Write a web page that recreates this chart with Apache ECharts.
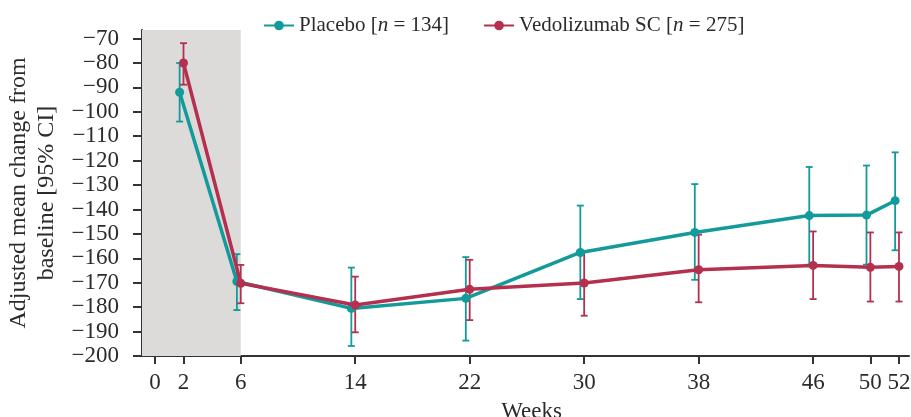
<!DOCTYPE html>
<html>
<head>
<meta charset="utf-8">
<script src="https://cdn.jsdelivr.net/npm/echarts@6/dist/echarts.min.js"></script>
<style>
html,body{margin:0;padding:0;background:#fff;}
#main{width:911px;height:417px;}
</style>
</head>
<body>
<div id="main"></div>
<script>
// Data
const weeks = [2, 6, 14, 22, 30, 38, 46, 50, 52];
const xTicks = [0, 2, 6, 14, 22, 30, 38, 46, 50, 52];
const yTicks = [-200, -190, -180, -170, -160, -150, -140, -130, -120, -110, -100, -90, -80, -70];
const placeboMean = [-92, -169.5, -180.5, -176.4, -157.6, -149.4, -142.5, -142.3, -136.4];
const placeboLow  = [-104, -181.2, -195.9, -193.7, -176.7, -168.8, -162.6, -162.6, -156.7];
const placeboHigh = [-80, -158.3, -163.8, -159.5, -138.4, -129.6, -122.6, -122, -116.6];
const vedoMean = [-80, -170.2, -179.1, -172.7, -170.1, -164.7, -162.9, -163.7, -163.3];
const vedoLow  = [-88.9, -178.4, -190.3, -185.3, -183.5, -178, -176.7, -177.7, -177.7];
const vedoHigh = [-71.9, -162.7, -167.5, -160.6, -157.2, -150.3, -149, -149.4, -149.4];
const placeboName = 'Placebo [{i|n} = 134]';
const vedoName = 'Vedolizumab SC [{i|n} = 275]';
const placeboOffset = -0.27;
const vedoOffset = 0;
const inductionEnd = 6;

const teal = '#139a9b';
const red = '#b4304e';
const textColor = '#2b2b2b';
const font = '"Liberation Serif", "DejaVu Serif", serif';

const chart = echarts.init(document.getElementById('main'));

function meanData(m, off) { return weeks.map((w, i) => [w + off, m[i]]); }
function errData(lo, hi, off) { return weeks.map((w, i) => [w + off, lo[i], hi[i]]); }

function errRender(color) {
  return function (params, api) {
    const x = api.value(0);
    const lo = api.coord([x, api.value(1)]);
    const hi = api.coord([x, api.value(2)]);
    const cap = 3.5;
    const style = { stroke: color, lineWidth: 1.8, fill: null };
    return {
      type: 'group',
      children: [
        { type: 'line', shape: { x1: lo[0], y1: lo[1], x2: hi[0], y2: hi[1] }, style: style },
        { type: 'line', shape: { x1: lo[0] - cap, y1: lo[1], x2: lo[0] + cap, y2: lo[1] }, style: style },
        { type: 'line', shape: { x1: hi[0] - cap, y1: hi[1], x2: hi[0] + cap, y2: hi[1] }, style: style }
      ]
    };
  };
}

const option = {
  animation: false,
  backgroundColor: '#fff',
  textStyle: { fontFamily: font, color: textColor },
  grid: { left: 142, right: 2, top: 30, bottom: 61, containLabel: false, outerBoundsMode: 'none' },
  legend: {
    left: 258,
    top: 10,
    itemWidth: 30,
    itemHeight: 12,
    itemGap: 34,
    textStyle: {
      fontFamily: font, fontSize: 21, color: textColor,
      rich: { i: { fontFamily: font, fontSize: 21, fontStyle: 'italic', color: textColor } }
    },
    data: [placeboName, vedoName]
  },
  xAxis: {
    type: 'value',
    min: -0.9,
    max: 52.7,
    name: 'Weeks',
    nameLocation: 'middle',
    nameGap: 44,
    nameTextStyle: { fontFamily: font, fontSize: 23, color: textColor, padding: [0, 0, 0, 12] },
    splitLine: { show: false },
    axisLine: { show: true, onZero: false, lineStyle: { color: '#333', width: 2 } },
    axisTick: { show: true, length: 8, inside: false, customValues: xTicks, lineStyle: { color: '#333', width: 2 } },
    axisLabel: { customValues: xTicks, margin: 15, fontFamily: font, fontSize: 23, color: textColor }
  },
  yAxis: {
    type: 'value',
    min: -200,
    max: -66.5,
    name: 'Adjusted mean change from\nbaseline [95% CI]',
    nameLocation: 'middle',
    nameRotate: 90,
    nameGap: 77,
    nameTextStyle: { fontFamily: font, fontSize: 24, color: textColor, lineHeight: 28, align: 'center' },
    splitLine: { show: false },
    axisLine: { show: true, onZero: false, lineStyle: { color: '#333', width: 2 } },
    axisTick: { show: true, length: 9, customValues: yTicks, lineStyle: { color: '#333', width: 2 } },
    axisLabel: {
      customValues: yTicks, margin: 23, fontFamily: font, fontSize: 23, color: textColor,
      formatter: v => String(v).replace('-', '\u2212')
    }
  },
  series: [
    {
      name: placeboName,
      type: 'line',
      data: meanData(placeboMean, placeboOffset),
      color: teal,
      symbol: 'circle',
      symbolSize: 9,
      lineStyle: { width: 3.5, color: teal },
      itemStyle: { color: teal },
      z: 3,
      markArea: {
        silent: true,
        itemStyle: { color: '#dcdbda' },
        data: [[{ xAxis: -0.9 }, { xAxis: inductionEnd }]]
      }
    },
    {
      name: vedoName,
      type: 'line',
      data: meanData(vedoMean, vedoOffset),
      color: red,
      symbol: 'circle',
      symbolSize: 9,
      lineStyle: { width: 3.5, color: red },
      itemStyle: { color: red },
      z: 4
    },
    {
      type: 'custom',
      name: 'placeboErr',
      renderItem: errRender(teal),
      data: errData(placeboLow, placeboHigh, placeboOffset),
      encode: { x: 0, y: [1, 2] },
      z: 2
    },
    {
      type: 'custom',
      name: 'vedoErr',
      renderItem: errRender(red),
      data: errData(vedoLow, vedoHigh, vedoOffset),
      encode: { x: 0, y: [1, 2] },
      z: 3
    }
  ]
};
chart.setOption(option);
</script>
</body>
</html>
